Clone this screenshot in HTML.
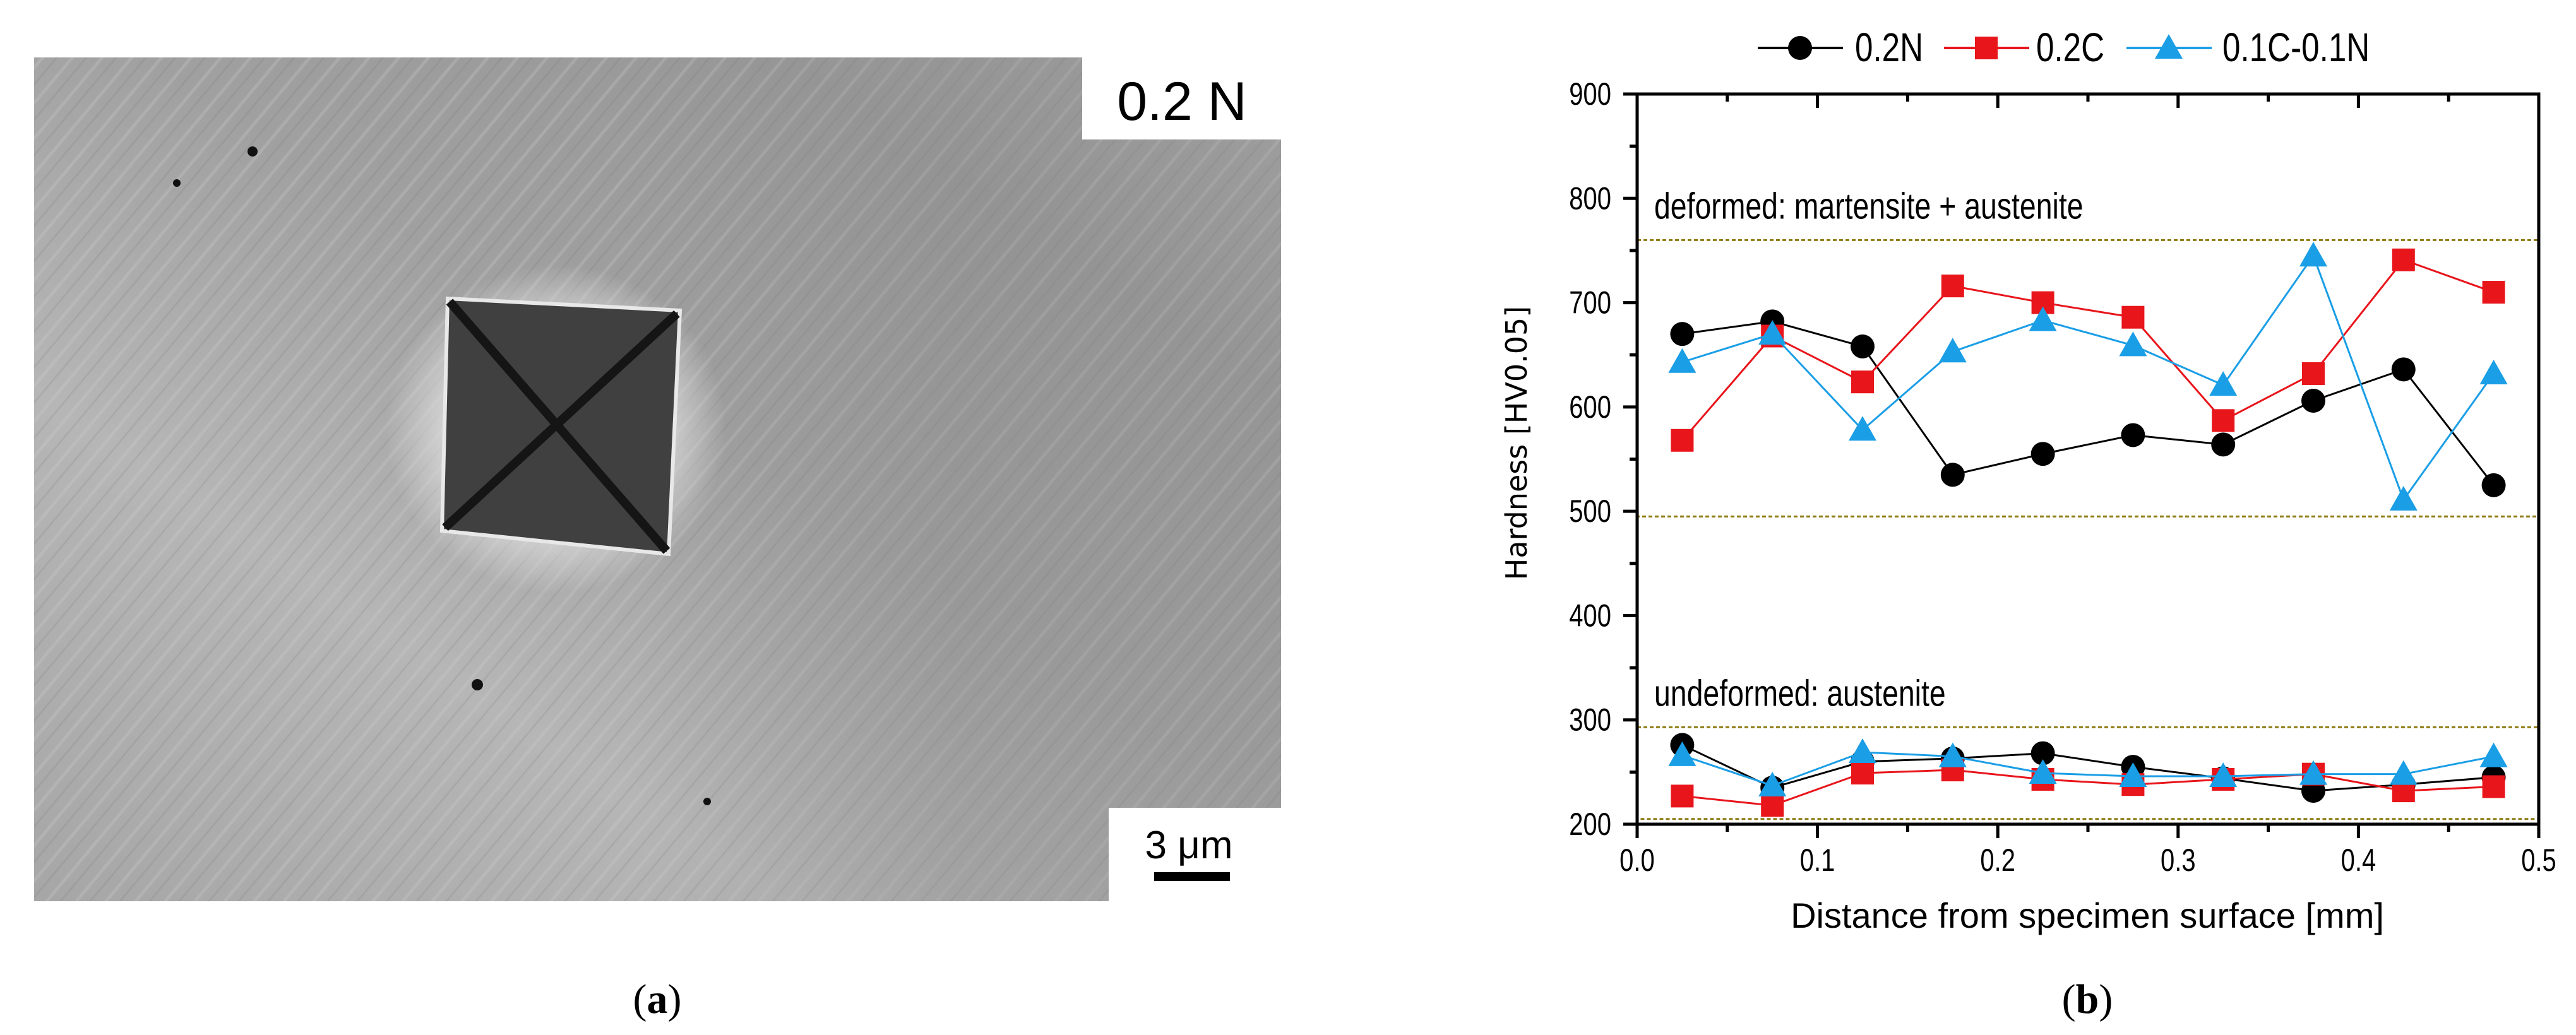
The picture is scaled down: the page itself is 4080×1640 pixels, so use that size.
<!DOCTYPE html>
<html><head><meta charset="utf-8"><style>
html,body{margin:0;padding:0;background:#fff}
#wrap{position:relative;width:4080px;height:1640px;overflow:hidden;background:#fff}
svg{position:absolute;left:0;top:0}
text{font-family:"Liberation Sans",sans-serif}
</style></head><body>
<div id="wrap">
<svg id="sem" width="4080" height="1640">
<defs>
<linearGradient id="g1" x1="0" y1="1" x2="1" y2="0">
<stop offset="0" stop-color="#a6a6a6"/><stop offset="0.3" stop-color="#b6b6b6"/><stop offset="0.55" stop-color="#a0a0a0"/><stop offset="0.8" stop-color="#989898"/><stop offset="1" stop-color="#a4a4a4"/></linearGradient>
<linearGradient id="g2" x1="0" y1="0" x2="1" y2="0">
<stop offset="0" stop-color="#8a8a8a" stop-opacity="0"/><stop offset="0.5" stop-color="#8a8a8a" stop-opacity="0.35"/><stop offset="1" stop-color="#8a8a8a" stop-opacity="0.2"/></linearGradient>
<pattern id="streak" width="36" height="36" patternUnits="userSpaceOnUse" patternTransform="rotate(-50)">
<rect y="0" width="36" height="5" fill="#cfcfcf" opacity="0.25"/><rect y="18" width="36" height="3" fill="#6c6c6c" opacity="0.15"/></pattern>
<radialGradient id="halo" cx="0.5" cy="0.5" r="0.5"><stop offset="0.6" stop-color="#dcdcdc" stop-opacity="0.9"/><stop offset="1" stop-color="#dcdcdc" stop-opacity="0"/></radialGradient>
</defs>
<g>
<rect x="54" y="91" width="1975" height="1337" fill="url(#g1)"/>
<rect x="54" y="91" width="1975" height="1337" fill="url(#streak)"/>
<rect x="1000" y="91" width="1029" height="1337" fill="url(#g2)"/>
<ellipse cx="880" cy="680" rx="270" ry="260" fill="url(#halo)"/>
<polygon points="709,473 1077,492 1059,878 700,841" fill="#404040" stroke="#e8e8e8" stroke-width="6"/>
<line x1="712" y1="478" x2="1056" y2="873" stroke="#151515" stroke-width="14"/>
<line x1="1072" y1="497" x2="705" y2="836" stroke="#151515" stroke-width="14"/>
<circle cx="400" cy="240" r="8" fill="#111"/><circle cx="280" cy="290" r="6" fill="#111"/><circle cx="756" cy="1085" r="9" fill="#111"/><circle cx="1120" cy="1270" r="6" fill="#111"/>
</g>
<rect x="1714" y="91" width="315" height="130" fill="#fff"/>
<text x="1872" y="190" font-size="86" text-anchor="middle">0.2 N</text>
<rect x="1756" y="1280" width="273" height="148" fill="#fff"/>
<text x="1883" y="1360" font-size="62" text-anchor="middle">3 μm</text>
<rect x="1828" y="1382" width="120" height="14" fill="#000"/>
<text x="1041" y="1605" font-size="66" text-anchor="middle" style="font-family:'Liberation Serif',serif">(<tspan font-weight="bold">a</tspan>)</text>
<text x="3306" y="1605" font-size="66" text-anchor="middle" style="font-family:'Liberation Serif',serif">(<tspan font-weight="bold">b</tspan>)</text>
</svg>
<svg id="chart" width="4080" height="1640"></svg>
</div>
<script>
const xs = [0.025,0.075,0.125,0.175,0.225,0.275,0.325,0.375,0.425,0.475];
const n02Def = [670,682,658,535,555,573,564,606,636,525];
const c02Def = [568,668,624,716,700,686,587,632,741,710];
const cnDef = [643,670,578,653,683,659,621,745,511,632];
const n02Und = [276,235,260,263,268,255,244,232,238,245];
const c02Und = [227,218,249,252,243,238,243,248,232,236];
const cnUnd = [266,237,269,265,249,246,246,248,248,265];
const xTicks = [0.0,0.1,0.2,0.3,0.4,0.5];
const yTicks = [200,300,400,500,600,700,800,900];
const zoneBounds = [[495,760],[205,293]];
const zoneLabels = ["deformed: martensite + austenite","undeformed: austenite"];
const legendLabels = ["0.2N","0.2C","0.1C-0.1N"];

const NS="http://www.w3.org/2000/svg";
const svg=document.getElementById('chart');
const X0=2593,X1=4021,Y0=1306,Y1=149;
const SC=0.8;
const sx=v=>X0+(v-0)/(0.5)*(X1-X0);
const sy=v=>Y0-(v-200)/(700)*(Y0-Y1);
function mk(tag,attrs,parent){const e=document.createElementNS(NS,tag);for(const k in attrs)e.setAttribute(k,attrs[k]);(parent||svg).appendChild(e);return e;}
function narrow(x,y,size,anchor,parent){return mk('text',{x:x/SC,y:y,'font-size':size,'text-anchor':anchor||'start',transform:`scale(${SC},1)`},parent);}

zoneBounds.forEach((b,i)=>{
  const r=mk('rect',{x:X0,y:sy(b[1]),width:X1-X0,height:sy(b[0])-sy(b[1]),fill:'none',stroke:'#8c7a10','stroke-width':3,'stroke-dasharray':'6,4'});
  
  
  const t=narrow(2620,sy(b[1])-34,58);
  t.textContent=zoneLabels[i];
  
  
});

const ax=mk('g',{stroke:'#000','stroke-width':5});


mk('rect',{x:X0,y:Y1,width:X1-X0,height:Y0-Y1,fill:'none'},ax);
for(let v=0;v<=0.5001;v+=0.05){
  const major=Math.abs(v*10-Math.round(v*10))<1e-6;
  const L=major?22:12;
  mk('line',{x1:sx(v),x2:sx(v),y1:Y0,y2:Y0+L},ax);
  mk('line',{x1:sx(v),x2:sx(v),y1:Y1,y2:Y1+L},ax);
}
for(let v=200;v<=900;v+=50){
  const L=(v%100===0)?22:12;
  mk('line',{x1:X0-L,x2:X0,y1:sy(v),y2:sy(v)},ax);
}
xTicks.forEach(v=>{
  const t=narrow(sx(v),1380,50,'middle');
  t.textContent=v.toFixed(1);
  
  
});
yTicks.forEach(v=>{
  const t=narrow(2552,sy(v)+17,50,'end');
  t.textContent=v;
  
  
});
const xt=mk('text',{x:3306,y:1470,'font-size':56,'text-anchor':'middle'});
xt.textContent='Distance from specimen surface [mm]';


const yt=mk('text',{x:0,y:0,'font-size':46,'text-anchor':'middle',style:"font-family:'DejaVu Sans',sans-serif",transform:'translate(2418,702) rotate(-90)'});
yt.textContent='Hardness [HV0.05]';



function marker(type,cx,cy,color,g){
  if(type==='c') return mk('circle',{cx:cx,cy:cy,r:19,fill:color},g);
  if(type==='s') return mk('rect',{x:cx-18,y:cy-18,width:36,height:36,fill:color},g);
  return mk('polygon',{points:`${cx},${cy-22} ${cx-22},${cy+17} ${cx+22},${cy+17}`,fill:color},g);
}
const series=[
 {name:'0.2N',col:'#000',m:'c',data:[n02Def,n02Und]},
 {name:'0.2C',col:'#e8151b',m:'s',data:[c02Def,c02Und]},
 {name:'0.1C-0.1N',col:'#1a9ee6',m:'t',data:[cnDef,cnUnd]}];
series.forEach((s,si)=>{
  s.data.forEach((arr,di)=>{
    const g=mk('g',{});
    
    
    const pts=arr.map((v,i)=>sx(xs[i])+','+sy(v)).join(' ');
    mk('polyline',{points:pts,fill:'none',stroke:s.col,'stroke-width':3},g);
    arr.forEach((v,i)=>{
      const m=marker(s.m,sx(xs[i]),sy(v),s.col,g);
      
      
    });
  });
});
const lx=[2784,3079,3368];
const lt=[2938,3225,3520];
series.forEach((s,i)=>{
  const g=mk('g',{});
  
  
  mk('line',{x1:lx[i],x2:lx[i]+135,y1:76,y2:76,stroke:s.col,'stroke-width':4},g);
  marker(s.m,lx[i]+67,76,s.col,g);
  const t=narrow(lt[i],97,64,'start',g);
  t.textContent=legendLabels[i];
});
</script>
</body></html>
